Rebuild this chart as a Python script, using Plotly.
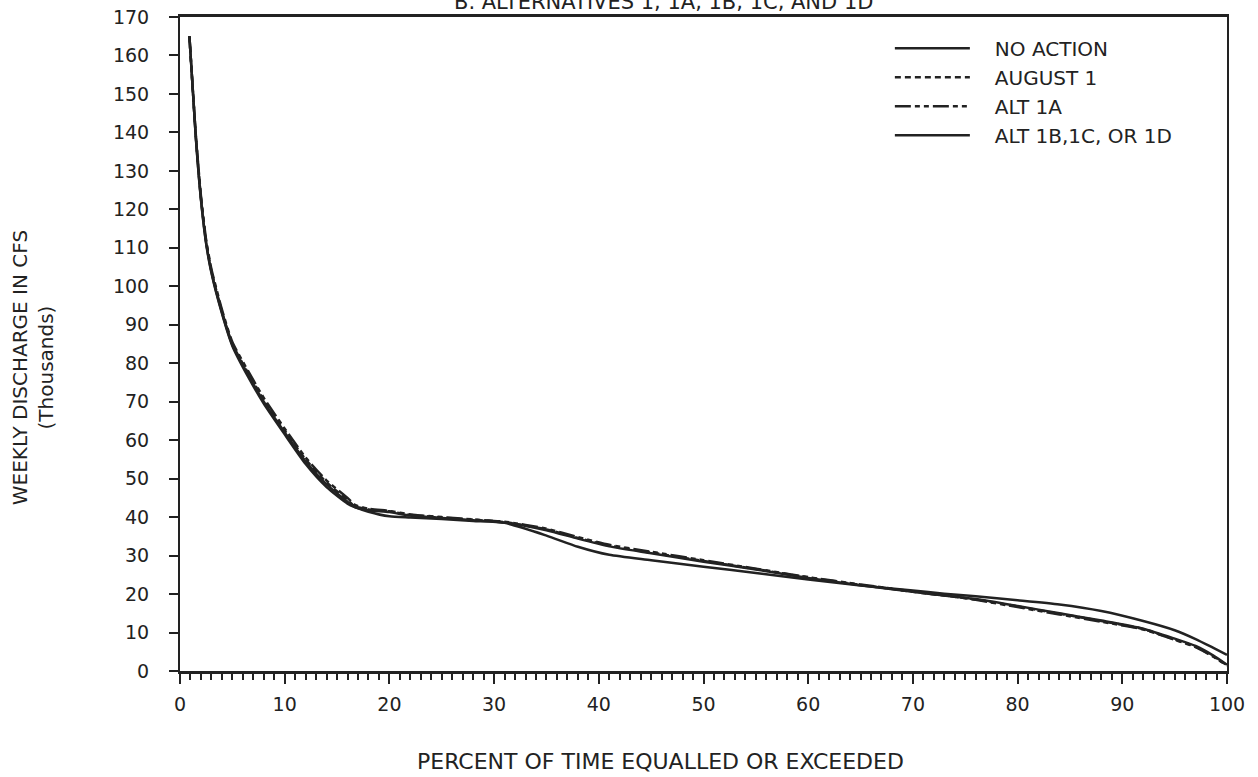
import plotly.graph_objects as go

# ---- data ----
pct = [0.9, 1.5, 2, 2.5, 3, 4, 5, 6.5, 8, 10, 12, 14, 16, 16.7, 18, 20, 22, 25, 28, 31,
       35, 38, 41, 45, 50, 55, 60, 65, 70, 73, 76, 80, 84, 88, 92, 95, 97, 98.7, 100]

no_action = [165.0, 139.0, 122.5, 111.0, 103.5, 93.0, 84.5, 76.5, 69.5, 61.5, 53.8, 47.8, 43.5, 42.6,
             41.4, 40.2, 39.9, 39.5, 39.0, 38.5, 35.2, 32.3, 30.2, 28.8, 27.1, 25.5, 23.8, 22.2,
             20.9, 20.1, 19.4, 18.4, 17.3, 15.6, 13.0, 10.6, 8.3, 6.0, 4.2]

august_1 = [165.0, 139.5, 123.0, 111.5, 104.0, 93.5, 85.0, 77.5, 70.5, 62.5, 55.0, 49.0, 44.5, 42.8,
            42.0, 41.5, 40.6, 39.9, 39.3, 38.7, 36.8, 34.6, 32.6, 30.8, 28.6, 26.5, 24.3, 22.4,
            20.6, 19.6, 18.6, 16.8, 14.9, 13.0, 10.9, 8.2, 6.3, 3.8, 1.5]

alt_1a = [165.0, 139.8, 123.5, 112.0, 104.5, 94.0, 85.5, 78.0, 71.0, 63.0, 55.5, 49.5, 45.0, 43.2,
          42.2, 41.6, 40.7, 40.0, 39.4, 38.8, 37.0, 34.8, 32.8, 31.0, 28.8, 26.6, 24.4, 22.5,
          20.7, 19.7, 18.5, 16.6, 14.7, 12.8, 10.8, 8.1, 6.2, 3.7, 1.4]

alt_1bcd = [165.0, 139.2, 122.8, 111.3, 103.8, 93.3, 84.8, 77.0, 70.0, 62.0, 54.5, 48.5, 44.0, 42.6,
            41.8, 41.3, 40.4, 39.8, 39.2, 38.6, 36.6, 34.4, 32.4, 30.6, 28.4, 26.4, 24.2, 22.3,
            20.6, 19.6, 18.7, 16.9, 15.0, 13.1, 11.0, 8.4, 6.5, 4.0, 1.6]

series_names = ["NO ACTION", "AUGUST 1", "ALT 1A", "ALT 1B,1C, OR 1D"]
series_values = [no_action, august_1, alt_1a, alt_1bcd]
series_dash = ["solid", "6px,4px", "16px,4px,5px,4px,5px,4px", "solid"]

x_ticks = list(range(0, 101, 10))
y_ticks = list(range(0, 171, 10))

title_text = "B. ALTERNATIVES 1, 1A, 1B, 1C, AND 1D"
x_title = "PERCENT OF TIME EQUALLED OR EXCEEDED"
y_title = "WEEKLY DISCHARGE IN CFS<br>(Thousands)"

INK = "#222222"
FONT = "DejaVu Sans"

fig = go.Figure()
for name, vals, dash in zip(series_names, series_values, series_dash):
    fig.add_trace(go.Scatter(
        x=pct, y=vals, name="\u2003" + name, mode="lines",
        line=dict(color=INK, width=2.5, dash=dash, shape="spline", smoothing=0.6),
    ))

fig.update_layout(
    width=1258, height=777,
    margin=dict(l=180, r=31, t=17, b=106),
    paper_bgcolor="white", plot_bgcolor="white",
    font=dict(family=FONT, size=19, color=INK),
    showlegend=True,
    legend=dict(
        x=0.678, y=0.982, xanchor="left", yanchor="top",
        bgcolor="rgba(0,0,0,0)", borderwidth=0,
        font=dict(family=FONT, size=20, color=INK),
        itemwidth=75, tracegroupgap=0,
    ),
    annotations=[
        dict(text=title_text, xref="paper", yref="paper", x=0.462, y=1.0,
             xanchor="center", yanchor="bottom", yshift=1, showarrow=False,
             font=dict(family=FONT, size=21, color=INK)),
        dict(text=x_title, xref="paper", yref="paper", x=0.4585, y=-0.139,
             xanchor="center", yanchor="middle", showarrow=False,
             font=dict(family=FONT, size=22, color=INK)),
        dict(text=y_title, xref="paper", yref="paper", x=-0.1404, y=0.463,
             xanchor="center", yanchor="middle", textangle=-90, showarrow=False,
             font=dict(family=FONT, size=20, color=INK)),
    ],
)

fig.update_xaxes(
    range=[0, 100], tickvals=x_ticks, ticktext=[str(v) for v in x_ticks],
    showgrid=False, zeroline=False,
    showline=True, linecolor=INK, linewidth=2.5, mirror=True,
    ticks="outside", ticklen=10, tickwidth=2, tickcolor=INK,
    minor=dict(dtick=1, ticks="outside", ticklen=6, tickwidth=1.5, tickcolor=INK, showgrid=False),
    ticklabelstandoff=4,
    tickfont=dict(family=FONT, size=19, color=INK),
    automargin=False,
)
fig.update_yaxes(
    range=[0, 170], tickvals=y_ticks, ticktext=[str(v) for v in y_ticks],
    showgrid=False, zeroline=False,
    showline=True, linecolor=INK, linewidth=2, mirror=True,
    ticks="outside", ticklen=9, tickwidth=2, tickcolor=INK,
    ticklabelstandoff=16,
    tickfont=dict(family=FONT, size=19, color=INK),
    automargin=False,
)

fig.write_html("out.html")
